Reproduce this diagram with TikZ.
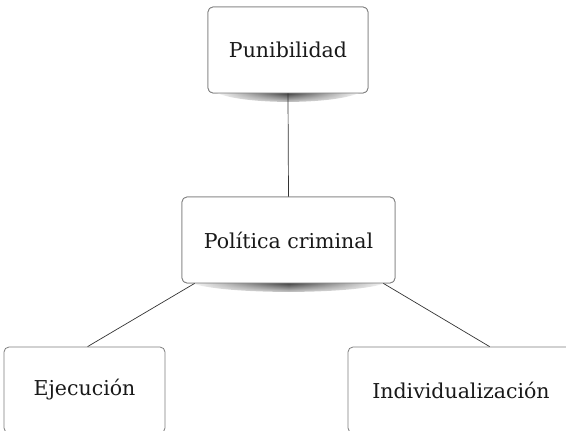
\documentclass[tikz,border=0pt]{standalone}
\usepackage{fontspec}
\setmainfont{DejaVu Serif}
\usetikzlibrary{calc,fadings}
\definecolor{edgegray}{RGB}{125,125,125}
\newcommand\shadowunder[1]{%
  \shade[left color=white, right color=white, middle color=black!85, path fading=south]
    ($(#1.south west)+(6,-2)$) -- ($(#1.south east)+(-6,-2)$)
    .. controls ($(#1.south east)+(-30,12)$) and ($(#1.south west)+(30,12)$) .. ($(#1.south west)+(6,-2)$) -- cycle;}
\begin{document}
\begin{tikzpicture}[x=1pt,y=-1pt,
  box/.style={draw=edgegray, line width=0.8pt, rounded corners=5pt, fill=white,
    inner sep=0pt, font=\fontsize{20.5}{24}\selectfont, text=black!90},
  link/.style={draw=black!80, line width=0.7pt}]
\useasboundingbox (0,0) rectangle (566,431);
\clip (0,0) rectangle (566,431);
\node[box, minimum width=160pt, minimum height=86pt] (pun) at (288,50) {Punibilidad};
\node[box, minimum width=213pt, minimum height=86pt] (pol) at (288.5,240) {Política criminal};
\node[box, minimum width=161pt, minimum height=86pt] (eje) at (84.5,390) {Ejecución};
\node[box, minimum width=226pt, minimum height=86pt] (ind) at (461,390) {Individualización};
\shadowunder{pun}
\shadowunder{pol}
\node[box, minimum width=160pt, minimum height=86pt] at (pun) {Punibilidad};
\node[box, minimum width=213pt, minimum height=86pt] at (pol) {Política criminal};
\draw[link] (pun.south) -- (pol.north);
\draw[link] ($(pol.south west)+(13,0)$) -- ($(eje.north west)+(84,0)$);
\draw[link] ($(pol.south east)+(-12,0)$) -- ($(ind.north west)+(142,0)$);
\end{tikzpicture}
\end{document}
